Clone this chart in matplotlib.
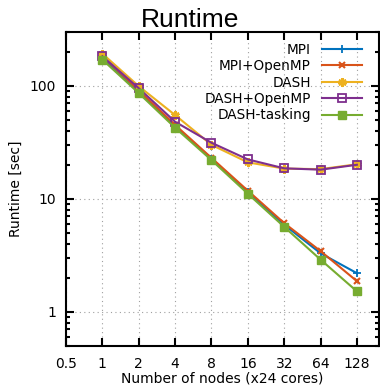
import numpy as np
import matplotlib
matplotlib.use("Agg")
import matplotlib.pyplot as plt
from matplotlib.ticker import LogLocator, NullFormatter, NullLocator

plt.rcParams['font.family'] = 'DejaVu Sans'

# node counts (x24 cores)
nodes = [1, 2, 4, 8, 16, 32, 64, 128]

# runtimes in seconds
mpi = [175, 88, 44, 22.5, 11.4, 5.9, 3.3, 2.2]
mpi_omp = [182, 91, 45, 23, 11.8, 6.1, 3.45, 1.87]
dash = [192, 99, 55, 30, 21, 18.5, 18.3, 20.2]
dash_omp = [182, 95, 48, 31.3, 22.3, 18.6, 18.1, 20]
dash_task = [170, 86, 42.5, 22, 11.1, 5.65, 2.9, 1.52]

xtick_vals = [0.5, 1, 2, 4, 8, 16, 32, 64, 128]
xtick_labels = ['0.5', '1', '2', '4', '8', '16', '32', '64', '128']
ytick_vals = [1, 10, 100]
ytick_labels = ['1', '10', '100']

fig = plt.figure(figsize=(3.8, 3.87), dpi=100)
ax = fig.add_axes([0.1737, 0.106, 0.8237, 0.812])

lw = 1.5
ax.plot(nodes, mpi, color='#0072bd', marker='+', ms=6, mew=1.3, lw=lw, label='MPI')
ax.plot(nodes, mpi_omp, color='#d95319', marker='x', ms=5, mew=1.5, lw=lw, label='MPI+OpenMP')
ax.plot(nodes, dash, color='#edb120', marker=(6, 2, 0), ms=6, mew=2, lw=lw, label='DASH')
ax.plot(nodes, dash_omp, color='#7e2f8e', marker='s', ms=6, mfc='none', mew=1.3, lw=lw, label='DASH+OpenMP')
ax.plot(nodes, dash_task, color='#77ac30', marker='s', ms=6, lw=lw, label='DASH-tasking')

ax.set_xscale('log', base=2)
ax.set_yscale('log')
ax.set_xlim(0.5, 195)
ax.set_ylim(0.5, 300)

ax.set_xticks(xtick_vals)
ax.set_xticklabels(xtick_labels)
ax.xaxis.set_minor_locator(NullLocator())
ax.set_yticks(ytick_vals)
ax.set_yticklabels(ytick_labels)
ax.yaxis.set_minor_locator(LogLocator(base=10, subs=np.arange(2, 10)))
ax.yaxis.set_minor_formatter(NullFormatter())

ax.tick_params(which='both', direction='in', top=True, right=True, width=1.5, labelsize=10)
ax.tick_params(which='major', length=6, pad=7)
ax.tick_params(which='minor', length=3)
ax.tick_params(axis='x', pad=8)

for s in ax.spines.values():
    s.set_linewidth(1.5)

ax.grid(True, which='major', color='#a0a0a0', linestyle=(0, (1, 3)), linewidth=0.8)

ax.set_xlabel('Number of nodes (x24 cores)', fontsize=10, labelpad=0)
ax.set_ylabel('Runtime [sec]', fontsize=10, labelpad=5)
fig.text(0.5, 0.917, 'Runtime', fontsize=19, family='Liberation Sans', ha='center', va='bottom')

ax.legend(loc='upper right', frameon=False, markerfirst=False, fontsize=9.8,
          handlelength=3.0, handletextpad=0.8, labelspacing=0.18,
          borderaxespad=0.4, bbox_to_anchor=(0.982, 1.0))

fig.savefig('out.png', dpi=100)
